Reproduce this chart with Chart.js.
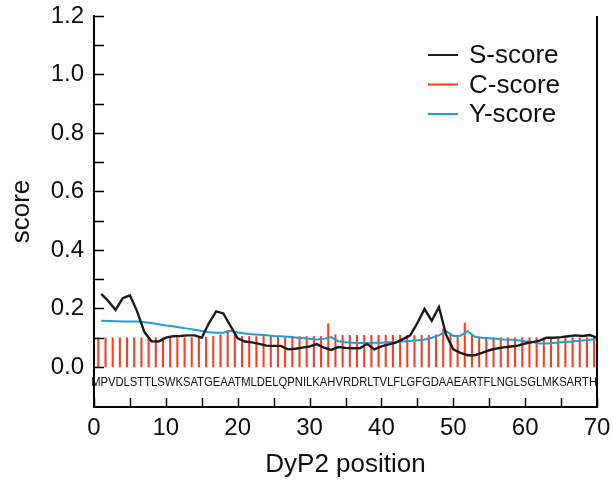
<!DOCTYPE html>
<html>
<head>
<meta charset="utf-8">
<script src="https://cdn.jsdelivr.net/npm/chart.js@4.4.1/dist/chart.umd.min.js"></script>
<style>
  html, body { margin: 0; padding: 0; background: #ffffff; }
  #wrap { width: 613px; height: 481px; }
</style>
</head>
<body>
<div id="wrap"><canvas id="myChart" width="613" height="481"></canvas></div>
<script>
const sequence = "MPVDLSTTLSWKSATGEAATMLDELQPNILKAHVRDRLTVLFLGFGDAAEARTFLNGLSGLMKSARTH";

const sScore = [
  0.250, 0.225, 0.195, 0.235, 0.245, 0.190, 0.120, 0.088, 0.087, 0.100,
  0.105, 0.106, 0.108, 0.108, 0.100, 0.150, 0.190, 0.183, 0.140, 0.098,
  0.087, 0.084, 0.079, 0.073, 0.072, 0.072, 0.060, 0.062, 0.066, 0.070,
  0.078, 0.066, 0.058, 0.068, 0.065, 0.064, 0.064, 0.079, 0.060, 0.070,
  0.077, 0.083, 0.095, 0.108, 0.150, 0.198, 0.158, 0.205, 0.110, 0.060,
  0.048, 0.040, 0.040, 0.048, 0.057, 0.063, 0.067, 0.070, 0.073, 0.080,
  0.085, 0.090, 0.100, 0.100, 0.102, 0.105, 0.108, 0.106, 0.109, 0.100
];

const cScore = [
  0.100, 0.100, 0.100, 0.100, 0.100, 0.100, 0.100, 0.100, 0.100, 0.100,
  0.100, 0.100, 0.100, 0.100, 0.100, 0.102, 0.105, 0.110, 0.125, 0.120,
  0.104, 0.104, 0.104, 0.104, 0.104, 0.104, 0.104, 0.104, 0.104, 0.104,
  0.104, 0.104, 0.148, 0.110, 0.108, 0.108, 0.108, 0.108, 0.108, 0.108,
  0.108, 0.108, 0.108, 0.108, 0.108, 0.108, 0.108, 0.110, 0.130, 0.115,
  0.105, 0.150, 0.110, 0.100, 0.100, 0.100, 0.100, 0.100, 0.100, 0.100,
  0.100, 0.100, 0.100, 0.100, 0.100, 0.100, 0.100, 0.100, 0.100, 0.100
];

const yScore = [
  0.158, 0.157, 0.156, 0.155, 0.155, 0.155, 0.153, 0.150, 0.146, 0.142,
  0.139, 0.135, 0.131, 0.127, 0.123, 0.119, 0.117, 0.117, 0.124, 0.118,
  0.114, 0.112, 0.110, 0.108, 0.106, 0.105, 0.103, 0.101, 0.099, 0.096,
  0.094, 0.096, 0.102, 0.088, 0.084, 0.083, 0.082, 0.082, 0.083, 0.083,
  0.084, 0.085, 0.087, 0.089, 0.091, 0.094, 0.100, 0.108, 0.122, 0.106,
  0.107, 0.122, 0.103, 0.100, 0.098, 0.096, 0.094, 0.093, 0.091, 0.088,
  0.085, 0.080, 0.080, 0.082, 0.084, 0.086, 0.088, 0.090, 0.093, 0.095
];

const xTicks = [0, 5, 10, 15, 20, 25, 30, 35, 40, 45, 50, 55, 60, 65, 70];
const yTicks = [0, 0.1, 0.2, 0.3, 0.4, 0.5, 0.6, 0.7, 0.8, 0.9, 1.0, 1.1, 1.2];

const legendItems = [
  { label: "S-score", color: "#1c1c1c" },
  { label: "C-score", color: "#ff3a1e" },
  { label: "Y-score", color: "#1c9fdb" },
];

const FONT = "'Liberation Sans', Arial, sans-serif";

// positions 1..70; C-score impulses sit a little left of the line points
const positions = sScore.map((_, i) => i + 1);
const cPositions = positions.map((p) => p - 0.4);

const toXY = (xs, ys) => xs.map((x, i) => ({ x: x, y: ys[i] }));

const frame = {
  id: "frame",
  afterDraw(chart) {
    const ctx = chart.ctx;
    const a = chart.chartArea;
    const sx = chart.scales.x;
    const sy = chart.scales.y;
    ctx.save();
    ctx.strokeStyle = "#000";
    ctx.lineWidth = 2;
    // right border
    ctx.beginPath();
    ctx.moveTo(a.right, a.top);
    ctx.lineTo(a.right, a.bottom);
    ctx.stroke();
    ctx.lineWidth = 1.5;
    // inward ticks
    yTicks.forEach((v) => {
      const y = Math.round(sy.getPixelForValue(v)) + 0.5;
      ctx.beginPath();
      ctx.moveTo(a.left, y);
      ctx.lineTo(a.left + 10, y);
      ctx.stroke();
    });
    xTicks.forEach((v) => {
      const x = Math.round(sx.getPixelForValue(v)) + 0.5;
      ctx.beginPath();
      ctx.moveTo(x, a.bottom);
      ctx.lineTo(x, a.bottom - 9);
      ctx.stroke();
    });
    // sequence under the curves
    ctx.fillStyle = "#111";
    ctx.font = "12px " + FONT;
    ctx.textBaseline = "middle";
    ctx.textAlign = "left";
    const x0 = sx.getPixelForValue(-0.4);
    const x1 = sx.getPixelForValue(70);
    ctx.fillText(sequence, x0, sy.getPixelForValue(-0.054), x1 - x0);
    // legend
    ctx.font = "26px " + FONT;
    legendItems.forEach((item, i) => {
      const y = 55 + i * 29.5;
      ctx.strokeStyle = item.color;
      ctx.lineWidth = 2;
      ctx.beginPath();
      ctx.moveTo(a.right - 169, y);
      ctx.lineTo(a.right - 139, y);
      ctx.stroke();
      ctx.fillStyle = "#111";
      ctx.fillText(item.label, a.right - 128, y + 1);
    });
    ctx.restore();
  },
};

let myChart = new Chart(document.getElementById("myChart").getContext("2d"), {
  data: {
    datasets: [
      {
        type: "bar",
        label: "C-score",
        data: toXY(cPositions, cScore),
        backgroundColor: "#ff3a1e",
        borderWidth: 0,
        barThickness: 1.4,
        grouped: false,
        order: 3,
      },
      {
        type: "line",
        label: "Y-score",
        data: toXY(positions, yScore),
        borderColor: "#1c9fdb",
        borderWidth: 2,
        pointRadius: 0,
        tension: 0,
        order: 2,
      },
      {
        type: "line",
        label: "S-score",
        data: toXY(positions, sScore),
        borderColor: "#1c1c1c",
        borderWidth: 2.4,
        pointRadius: 0,
        tension: 0,
        order: 1,
      },
    ],
  },
  options: {
    responsive: false,
    animation: false,
    layout: { padding: { top: 16, right: 16, left: 0, bottom: 0 } },
    plugins: { legend: { display: false }, tooltip: { enabled: false } },
    scales: {
      x: {
        type: "linear",
        min: 0,
        max: 70,
        offset: false,
        afterBuildTicks: (s) => { s.ticks = xTicks.map((v) => ({ value: v })); },
        afterFit: (s) => {
          s.height = 74;
          s.paddingLeft = 0;
          s.paddingRight = 0;
        },
        ticks: {
          color: "#111",
          font: { family: FONT, size: 24 },
          padding: 7,
          maxRotation: 0,
          autoSkip: false,
          callback: (v) => (v % 10 === 0 ? String(v) : ""),
        },
        grid: { display: false, drawTicks: false },
        border: { display: true, color: "#000", width: 2 },
        title: {
          display: true,
          text: "DyP2 position",
          color: "#111",
          font: { family: FONT, size: 26 },
          padding: { top: 0, bottom: 1 },
        },
      },
      y: {
        min: -0.137,
        max: 1.2,
        afterBuildTicks: (s) => { s.ticks = yTicks.map((v) => ({ value: v })); },
        afterFit: (s) => {
          s.width = 94;
          s.paddingTop = 0;
          s.paddingBottom = 0;
        },
        ticks: {
          color: "#111",
          font: { family: FONT, size: 24 },
          padding: 10,
          autoSkip: false,
          callback: (v) => (Math.round(v * 10) % 2 === 0 ? v.toFixed(1) : ""),
        },
        grid: { display: false, drawTicks: false },
        border: { display: true, color: "#000", width: 2 },
        title: {
          display: true,
          text: "score",
          color: "#111",
          font: { family: FONT, size: 26 },
          padding: { top: 6, bottom: 0 },
        },
      },
    },
  },
  plugins: [frame],
});
</script>
</body>
</html>
